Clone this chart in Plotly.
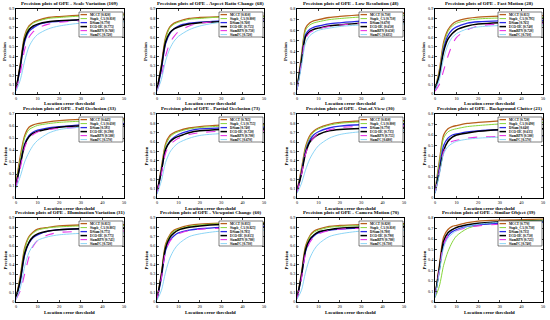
import plotly.graph_objects as go

W, H = 550, 320

thresholds = [0, 2, 4, 6, 8, 10, 15, 20, 30, 50]
trackers = ["MCCT", "Staple_CA", "DSiam", "ECO-HC", "SiamRPN", "SiamFC"]
colors = ["#b8601c", "#86d63c", "#2b2be6", "#000000", "#e633e6", "#7fd0f5"]
dashes = ["solid", "solid", "solid", "solid", "dash", "solid"]
widths = [1.3, 1.0, 1.3, 1.5, 1.1, 0.9]

titles = [
    "Precision plots of OPE - Scale Variation (109)",
    "Precision plots of OPE - Aspect Ratio Change (68)",
    "Precision plots of OPE - Low Resolution (48)",
    "Precision plots of OPE - Fast Motion (28)",
    "Precision plots of OPE - Full Occlusion (33)",
    "Precision plots of OPE - Partial Occlusion (73)",
    "Precision plots of OPE - Out-of-View (30)",
    "Precision plots of OPE - Background Clutter (21)",
    "Precision plots of OPE - Illumination Variation (31)",
    "Precision plots of OPE - Viewpoint Change (60)",
    "Precision plots of OPE - Camera Motion (70)",
    "Precision plots of OPE - Similar Object (39)",
]
ymax = [0.9, 0.9, 0.8, 0.9, 0.7, 0.9, 0.9, 0.8, 0.9, 0.9, 0.9, 0.8]

scale_variation = [
    [0.05, 0.32, 0.62, 0.72, 0.76, 0.78, 0.81, 0.82, 0.835, 0.845],
    [0.05, 0.30, 0.60, 0.71, 0.75, 0.77, 0.80, 0.81, 0.825, 0.835],
    [0.04, 0.28, 0.55, 0.66, 0.70, 0.73, 0.76, 0.77, 0.785, 0.795],
    [0.05, 0.30, 0.58, 0.68, 0.72, 0.74, 0.765, 0.775, 0.785, 0.79],
    [0.04, 0.22, 0.47, 0.60, 0.66, 0.70, 0.74, 0.76, 0.775, 0.785],
    [0.03, 0.15, 0.35, 0.50, 0.58, 0.63, 0.69, 0.72, 0.75, 0.765],
]
aspect_ratio_change = [
    [0.04, 0.30, 0.60, 0.71, 0.75, 0.77, 0.80, 0.81, 0.82, 0.825],
    [0.04, 0.28, 0.58, 0.70, 0.74, 0.76, 0.79, 0.80, 0.815, 0.82],
    [0.04, 0.25, 0.53, 0.64, 0.69, 0.72, 0.75, 0.76, 0.775, 0.78],
    [0.05, 0.28, 0.55, 0.65, 0.69, 0.71, 0.74, 0.755, 0.765, 0.77],
    [0.03, 0.18, 0.40, 0.54, 0.61, 0.66, 0.72, 0.75, 0.77, 0.78],
    [0.03, 0.15, 0.35, 0.48, 0.56, 0.61, 0.68, 0.72, 0.76, 0.775],
]
low_resolution = [
    [0.05, 0.35, 0.62, 0.67, 0.69, 0.70, 0.72, 0.73, 0.745, 0.76],
    [0.05, 0.33, 0.60, 0.65, 0.67, 0.68, 0.70, 0.71, 0.725, 0.74],
    [0.04, 0.30, 0.56, 0.61, 0.63, 0.64, 0.66, 0.67, 0.685, 0.70],
    [0.05, 0.30, 0.54, 0.59, 0.61, 0.62, 0.64, 0.65, 0.665, 0.68],
    [0.04, 0.28, 0.52, 0.58, 0.60, 0.615, 0.635, 0.65, 0.665, 0.68],
    [0.04, 0.25, 0.48, 0.55, 0.58, 0.60, 0.62, 0.635, 0.65, 0.66],
]
fast_motion = [
    [0.05, 0.25, 0.55, 0.68, 0.74, 0.77, 0.80, 0.815, 0.825, 0.83],
    [0.05, 0.23, 0.52, 0.66, 0.72, 0.75, 0.78, 0.795, 0.805, 0.81],
    [0.04, 0.20, 0.48, 0.62, 0.68, 0.71, 0.75, 0.765, 0.775, 0.78],
    [0.05, 0.20, 0.45, 0.58, 0.64, 0.68, 0.72, 0.74, 0.755, 0.76],
    [0.03, 0.10, 0.25, 0.40, 0.52, 0.60, 0.68, 0.72, 0.74, 0.75],
    [0.04, 0.15, 0.38, 0.52, 0.60, 0.64, 0.69, 0.71, 0.725, 0.73],
]
full_occlusion = [
    [0.12, 0.35, 0.52, 0.59, 0.61, 0.62, 0.635, 0.645, 0.655, 0.66],
    [0.12, 0.32, 0.50, 0.57, 0.59, 0.605, 0.62, 0.63, 0.64, 0.65],
    [0.10, 0.28, 0.45, 0.52, 0.55, 0.565, 0.585, 0.595, 0.61, 0.62],
    [0.11, 0.28, 0.44, 0.51, 0.54, 0.555, 0.575, 0.59, 0.60, 0.61],
    [0.10, 0.25, 0.42, 0.50, 0.53, 0.55, 0.57, 0.58, 0.59, 0.60],
    [0.08, 0.18, 0.30, 0.38, 0.44, 0.48, 0.54, 0.57, 0.59, 0.60],
]
partial_occlusion = [
    [0.06, 0.32, 0.58, 0.67, 0.70, 0.72, 0.75, 0.765, 0.78, 0.79],
    [0.06, 0.30, 0.56, 0.65, 0.69, 0.71, 0.74, 0.755, 0.77, 0.78],
    [0.05, 0.28, 0.52, 0.61, 0.65, 0.68, 0.72, 0.74, 0.75, 0.76],
    [0.06, 0.28, 0.52, 0.60, 0.64, 0.66, 0.70, 0.72, 0.735, 0.74],
    [0.05, 0.25, 0.48, 0.57, 0.61, 0.64, 0.68, 0.70, 0.715, 0.72],
    [0.04, 0.18, 0.38, 0.49, 0.55, 0.59, 0.64, 0.67, 0.69, 0.70],
]
out_of_view = [
    [0.08, 0.30, 0.55, 0.67, 0.72, 0.75, 0.79, 0.81, 0.825, 0.83],
    [0.08, 0.28, 0.53, 0.65, 0.71, 0.74, 0.78, 0.80, 0.815, 0.82],
    [0.07, 0.26, 0.50, 0.62, 0.68, 0.71, 0.75, 0.77, 0.785, 0.79],
    [0.07, 0.25, 0.48, 0.60, 0.65, 0.68, 0.72, 0.735, 0.745, 0.75],
    [0.06, 0.24, 0.47, 0.59, 0.65, 0.69, 0.73, 0.755, 0.765, 0.77],
    [0.05, 0.15, 0.30, 0.42, 0.50, 0.56, 0.64, 0.68, 0.71, 0.72],
]
background_clutter = [
    [0.06, 0.35, 0.60, 0.66, 0.68, 0.69, 0.71, 0.72, 0.735, 0.75],
    [0.06, 0.33, 0.57, 0.63, 0.65, 0.66, 0.68, 0.69, 0.705, 0.72],
    [0.05, 0.28, 0.50, 0.57, 0.60, 0.61, 0.63, 0.64, 0.65, 0.66],
    [0.05, 0.25, 0.45, 0.54, 0.58, 0.60, 0.62, 0.635, 0.65, 0.66],
    [0.05, 0.25, 0.44, 0.51, 0.54, 0.55, 0.57, 0.58, 0.585, 0.59],
    [0.04, 0.22, 0.42, 0.49, 0.52, 0.54, 0.56, 0.57, 0.58, 0.59],
]
illumination_variation = [
    [0.04, 0.28, 0.58, 0.70, 0.75, 0.78, 0.80, 0.815, 0.825, 0.83],
    [0.04, 0.26, 0.56, 0.69, 0.74, 0.77, 0.795, 0.805, 0.815, 0.82],
    [0.03, 0.22, 0.50, 0.63, 0.69, 0.72, 0.76, 0.775, 0.785, 0.79],
    [0.04, 0.24, 0.52, 0.64, 0.70, 0.73, 0.76, 0.775, 0.785, 0.79],
    [0.03, 0.12, 0.30, 0.48, 0.60, 0.66, 0.72, 0.745, 0.755, 0.76],
    [0.03, 0.15, 0.38, 0.53, 0.61, 0.66, 0.70, 0.72, 0.735, 0.74],
]
viewpoint_change = [
    [0.03, 0.30, 0.62, 0.72, 0.77, 0.79, 0.82, 0.835, 0.845, 0.85],
    [0.03, 0.28, 0.60, 0.71, 0.76, 0.78, 0.81, 0.825, 0.84, 0.845],
    [0.03, 0.25, 0.55, 0.66, 0.71, 0.74, 0.77, 0.785, 0.80, 0.81],
    [0.03, 0.28, 0.58, 0.69, 0.74, 0.77, 0.80, 0.815, 0.83, 0.835],
    [0.03, 0.25, 0.54, 0.65, 0.70, 0.73, 0.765, 0.78, 0.79, 0.80],
    [0.02, 0.12, 0.32, 0.47, 0.56, 0.62, 0.70, 0.73, 0.76, 0.77],
]
camera_motion = [
    [0.04, 0.30, 0.60, 0.71, 0.76, 0.78, 0.81, 0.82, 0.83, 0.84],
    [0.04, 0.28, 0.58, 0.70, 0.75, 0.77, 0.80, 0.81, 0.82, 0.83],
    [0.04, 0.26, 0.54, 0.66, 0.71, 0.74, 0.77, 0.78, 0.795, 0.80],
    [0.04, 0.27, 0.56, 0.67, 0.72, 0.75, 0.775, 0.79, 0.80, 0.81],
    [0.03, 0.24, 0.52, 0.64, 0.70, 0.73, 0.765, 0.78, 0.79, 0.80],
    [0.03, 0.12, 0.32, 0.47, 0.56, 0.62, 0.70, 0.73, 0.76, 0.77],
]
similar_object = [
    [0.05, 0.35, 0.62, 0.69, 0.72, 0.73, 0.755, 0.77, 0.78, 0.79],
    [0.04, 0.15, 0.35, 0.48, 0.57, 0.63, 0.70, 0.73, 0.76, 0.78],
    [0.05, 0.30, 0.55, 0.63, 0.67, 0.69, 0.72, 0.735, 0.75, 0.76],
    [0.05, 0.32, 0.58, 0.66, 0.69, 0.71, 0.735, 0.75, 0.765, 0.77],
    [0.05, 0.30, 0.55, 0.63, 0.66, 0.68, 0.71, 0.725, 0.74, 0.75],
    [0.04, 0.28, 0.52, 0.61, 0.65, 0.68, 0.72, 0.74, 0.76, 0.77],
]

panels = [scale_variation, aspect_ratio_change, low_resolution, fast_motion,
          full_occlusion, partial_occlusion, out_of_view, background_clutter,
          illumination_variation, viewpoint_change, camera_motion, similar_object]

# plot-area pixel boxes
col_lr = [(16, 124), (157, 264), (297, 404), (435, 543)]
row_tb = [(9, 94), (114, 198), (218, 302)]

FONT = "Liberation Serif"
fig = go.Figure()
shapes = []
annotations = []


def px(x):
    return x / W


def py(y):
    return 1 - y / H


for i, data in enumerate(panels):
    r, c = divmod(i, 4)
    L, R = col_lr[c]
    T, B = row_tb[r]
    k = "" if i == 0 else str(i + 1)
    xa, ya = "x" + k, "y" + k
    for j, vals in enumerate(data):
        fig.add_trace(go.Scatter(
            x=thresholds, y=vals, mode="lines", xaxis=xa, yaxis=ya,
            line=dict(color=colors[j], width=widths[j], dash=dashes[j],
                      shape="spline", smoothing=0.8),
            showlegend=False, hoverinfo="skip"))
    ax = dict(domain=[px(L), px(R)], anchor=ya, range=[0, 50],
              tickvals=[0, 10, 20, 30, 40, 50], ticks="inside", ticklen=2,
              showline=True, linecolor="black", linewidth=0.8, mirror="ticks",
              showgrid=False, zeroline=False, automargin=False,
              tickfont=dict(family=FONT, size=4.2, color="black"))
    ymx = ymax[i]
    ytv = [round(v * 0.1, 1) for v in range(0, int(round(ymx * 10)) + 1)]
    ay = dict(domain=[py(B), py(T)], anchor=xa, range=[0, ymx],
              tickvals=ytv, ticktext=["0" if v == 0 else str(v) for v in ytv],
              ticks="inside", ticklen=2,
              showline=True, linecolor="black", linewidth=0.8, mirror="ticks",
              showgrid=False, zeroline=False, automargin=False,
              tickfont=dict(family=FONT, size=4.2, color="black"))
    fig.layout["xaxis" + k] = ax
    fig.layout["yaxis" + k] = ay
    annotations.append(dict(text="<b>" + titles[i] + "</b>", x=px((L + R) / 2),
                            y=py(T - 1.0), xref="paper", yref="paper",
                            xanchor="center", yanchor="bottom", showarrow=False,
                            font=dict(family=FONT, size=5.0, color="black")))
    annotations.append(dict(text="<b>Location error threshold</b>",
                            x=px((L + R) / 2), y=py(B + 10), xref="paper",
                            yref="paper", xanchor="center", yanchor="middle",
                            showarrow=False,
                            font=dict(family=FONT, size=4.8, color="black")))
    annotations.append(dict(text="<b>Precision</b>", x=px(L - 11.5),
                            y=py((T + B) / 2), xref="paper", yref="paper",
                            xanchor="center", yanchor="middle", textangle=-90,
                            showarrow=False,
                            font=dict(family=FONT, size=4.8, color="black")))
    # legend box
    lx0, lx1 = R - 45, R - 1
    ly0, ly1 = T + 3, T + 28
    shapes.append(dict(type="rect", xref="paper", yref="paper",
                       x0=px(lx0), x1=px(lx1), y0=py(ly1), y1=py(ly0),
                       line=dict(color="black", width=0.5), fillcolor="white",
                       layer="above"))
    for j in range(len(trackers)):
        yy = ly0 + 2.6 + j * 4.0
        shapes.append(dict(type="line", xref="paper", yref="paper",
                           x0=px(lx0 + 1.5), x1=px(lx0 + 8), y0=py(yy), y1=py(yy),
                           line=dict(color=colors[j], width=widths[j],
                                     dash=dashes[j]), layer="above"))
        score = data[j][thresholds.index(20)]
        annotations.append(dict(text="<b>%s [%.3f]</b>" % (trackers[j], score),
                                x=px(lx0 + 9), y=py(yy), xref="paper",
                                yref="paper", xanchor="left", yanchor="middle",
                                showarrow=False,
                                font=dict(family=FONT, size=3.3, color="black")))

fig.update_layout(width=W, height=H, margin=dict(l=0, r=0, t=0, b=0),
                  paper_bgcolor="white", plot_bgcolor="white",
                  shapes=shapes, annotations=annotations, showlegend=False)
fig.write_html("out.html", config={"displayModeBar": False},
               post_script="document.body.style.margin='0';")
